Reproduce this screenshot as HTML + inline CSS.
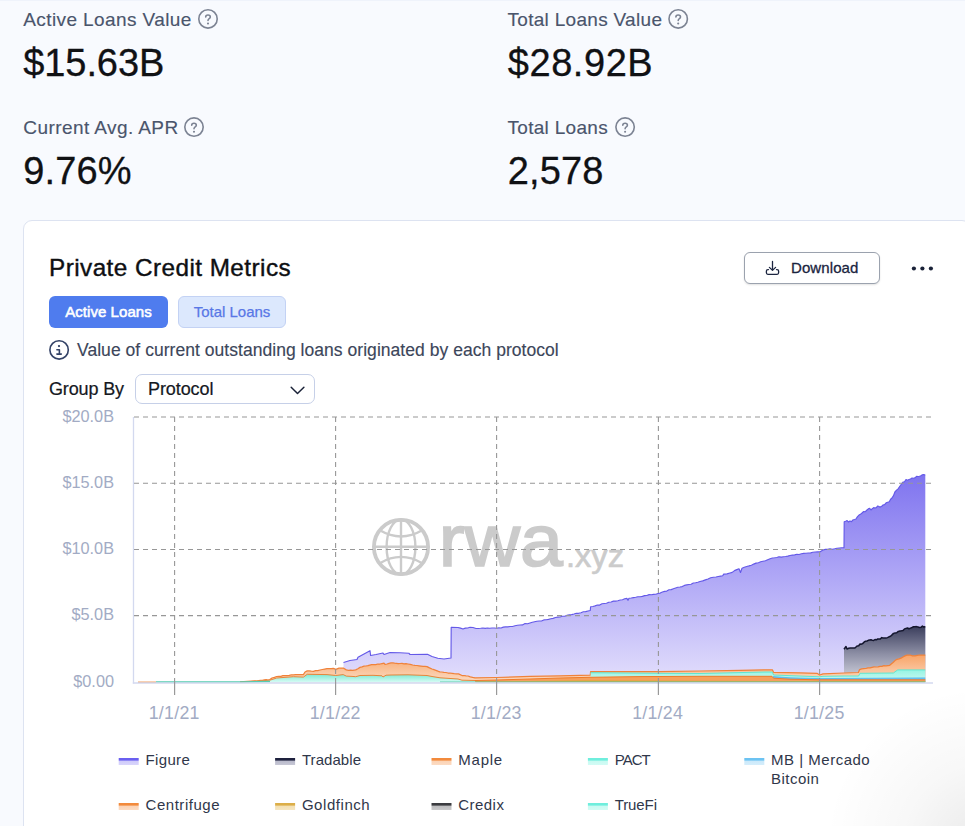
<!DOCTYPE html>
<html>
<head>
<meta charset="utf-8">
<style>
*{box-sizing:border-box;margin:0;padding:0}
html,body{width:965px;height:826px;overflow:hidden}
body{background:#f8fafe;font-family:"Liberation Sans",sans-serif;position:relative;color:#0f1115}
.abs{position:absolute;white-space:nowrap}
.lbl{font-size:19px;color:#4a556c;line-height:22px;letter-spacing:0.3px;-webkit-text-stroke:0.15px #4a556c}
.val{font-size:38px;color:#101114;line-height:44px;letter-spacing:-0.1px;-webkit-text-stroke:0.3px #101114}
.q{position:absolute;width:19px;height:19px}
#card{position:absolute;left:23px;top:220px;width:948px;height:640px;background:#fff;border:1px solid #dde3f1;border-radius:9px}
#title{left:49px;top:252.6px;font-size:24.3px;line-height:30px;color:#0e0f12;letter-spacing:0.45px;-webkit-text-stroke:0.4px #0e0f12}
.btn{position:absolute;top:296px;height:32px;border-radius:6px;font-size:15px;line-height:32px;text-align:center;letter-spacing:0.05px}
#b1{left:49px;width:119px;background:#4f7cee;color:#fff;-webkit-text-stroke:0.55px #fff}
#b2{left:178px;width:108px;background:#dce8fd;border:1px solid #c3d2f4;color:#5877e6;line-height:30px;letter-spacing:0;-webkit-text-stroke:0.25px #5877e6}
#dl{position:absolute;left:744px;top:252px;width:136px;height:32px;border:1px solid #9ba2ae;border-radius:6px;background:#fff;box-shadow:0 1px 2px rgba(0,0,0,.12)}
#dl span{position:absolute;left:46px;top:0;line-height:30px;font-size:15px;color:#1a2440;letter-spacing:0.1px;-webkit-text-stroke:0.3px #1a2440}
#info{left:77px;top:339px;font-size:17.5px;line-height:22px;color:#3c465a;letter-spacing:0.04px;-webkit-text-stroke:0.15px #3c465a}
#gb{left:49px;top:377.6px;font-size:18px;line-height:22px;color:#15181f;letter-spacing:-0.15px;-webkit-text-stroke:0.22px #15181f}
#sel{position:absolute;left:135px;top:374px;width:180px;height:30px;border:1px solid #c6d0e8;border-radius:7px;background:#fff}
#sel span{position:absolute;left:12px;top:0;line-height:28px;font-size:18px;color:#15181f;letter-spacing:-0.08px;-webkit-text-stroke:0.22px #15181f}
svg{position:absolute;left:0;top:0}
</style>
</head>
<body>
<div class="abs lbl" style="left:23.3px;top:9px;letter-spacing:0.4px">Active Loans Value</div>
<div class="abs val" style="left:23.3px;top:40.5px">$15.63B</div>
<div class="abs lbl" style="left:23.3px;top:117px;letter-spacing:0.42px">Current Avg. APR</div>
<div class="abs val" style="left:23.3px;top:148.5px;letter-spacing:0.1px">9.76%</div>
<div class="abs lbl" style="left:507.5px;top:9px">Total Loans Value</div>
<div class="abs val" style="left:507.8px;top:40.5px;letter-spacing:0.55px">$28.92B</div>
<div class="abs lbl" style="left:507.5px;top:117px">Total Loans</div>
<div class="abs val" style="left:507.8px;top:148.5px;letter-spacing:0.15px">2,578</div>

<div style="position:absolute;left:0;top:0;width:965px;height:1px;background:#eff3fb"></div>
<div id="card"></div>
<div class="abs" id="title">Private Credit Metrics</div>
<div class="btn" id="b1">Active Loans</div>
<div class="btn" id="b2">Total Loans</div>
<div id="dl"><span>Download</span></div>
<div class="abs" id="info">Value of current outstanding loans originated by each protocol</div>
<div class="abs" id="gb">Group By</div>
<div id="sel"><span>Protocol</span></div>

<svg id="ov" width="965" height="826" viewBox="0 0 965 826">
<!--ICONS-->
<g fill="none" stroke="#7c8393" stroke-width="1.6" stroke-linecap="round" stroke-linejoin="round"><circle cx="208" cy="18.9" r="9.2"/><path d="M205.7 17.0 C205.7 15.5 206.8 15.0 208 15.0 C209.3 15.0 210.3 15.8 210.3 17.0 C210.3 18.8 208 18.5 208 20.5"/></g><circle cx="208" cy="23.5" r="1.05" fill="#7c8393"/>
<g fill="none" stroke="#7c8393" stroke-width="1.6" stroke-linecap="round" stroke-linejoin="round"><circle cx="194" cy="127.1" r="9.2"/><path d="M191.7 125.2 C191.7 123.7 192.8 123.2 194 123.2 C195.3 123.2 196.3 124.0 196.3 125.2 C196.3 127.0 194 126.7 194 128.7"/></g><circle cx="194" cy="131.7" r="1.05" fill="#7c8393"/>
<g fill="none" stroke="#7c8393" stroke-width="1.6" stroke-linecap="round" stroke-linejoin="round"><circle cx="678.2" cy="18.9" r="9.2"/><path d="M675.9 17.0 C675.9 15.5 677.0 15.0 678.2 15.0 C679.5 15.0 680.5 15.8 680.5 17.0 C680.5 18.8 678.2 18.5 678.2 20.5"/></g><circle cx="678.2" cy="23.5" r="1.05" fill="#7c8393"/>
<g fill="none" stroke="#7c8393" stroke-width="1.6" stroke-linecap="round" stroke-linejoin="round"><circle cx="625.1" cy="127.1" r="9.2"/><path d="M622.8 125.2 C622.8 123.7 623.9 123.2 625.1 123.2 C626.4 123.2 627.4 124.0 627.4 125.2 C627.4 127.0 625.1 126.7 625.1 128.7"/></g><circle cx="625.1" cy="131.7" r="1.05" fill="#7c8393"/>
<g fill="none" stroke="#334266" stroke-width="1.6" stroke-linecap="round" stroke-linejoin="round"><circle cx="59.1" cy="349.9" r="9.2"/><path d="M56.9 349.7 H59.4 V354.1 M56.9 354.1 H61.3"/></g><circle cx="59" cy="346.1" r="1.15" fill="#334266"/>
<g fill="none" stroke="#1c2540" stroke-width="1.3" stroke-linecap="round" stroke-linejoin="round"><path d="M768.5 269.6 H767.9 a1.5 1.5 0 0 0 -1.5 1.5 V272.8 a1.5 1.5 0 0 0 1.5 1.5 H777.1 a1.5 1.5 0 0 0 1.5 -1.5 V271.1 a1.5 1.5 0 0 0 -1.5 -1.5 H776.5"/><path d="M772.5 261.4 V270.2 M769.4 267.4 L772.5 270.4 L775.6 267.4"/></g>
<g fill="#1a2238"><circle cx="913.9" cy="268.5" r="2.1"/><circle cx="922.4" cy="268.5" r="2.1"/><circle cx="930.9" cy="268.5" r="2.1"/></g>
<path d="M291.2 387.3 L297.5 393.5 L303.9 387.3" fill="none" stroke="#1a2238" stroke-width="1.5" stroke-linecap="round" stroke-linejoin="round"/>
<!--/ICONS-->
<!--CHART-->
<defs>
<linearGradient id="gF" gradientUnits="userSpaceOnUse" x1="0" y1="475" x2="0" y2="682"><stop offset="0" stop-color="#7f74ef"/><stop offset="0.5" stop-color="#b0a8f6"/><stop offset="1" stop-color="#e3dffc"/></linearGradient>
<linearGradient id="gT" gradientUnits="userSpaceOnUse" x1="0" y1="626" x2="0" y2="682"><stop offset="0" stop-color="#3a3d5c"/><stop offset="0.5" stop-color="#8d8fa5"/><stop offset="1" stop-color="#d9dae4"/></linearGradient>
<linearGradient id="gM" gradientUnits="userSpaceOnUse" x1="0" y1="655" x2="0" y2="682"><stop offset="0" stop-color="#f7a468"/><stop offset="1" stop-color="#fcdcc4"/></linearGradient>
<linearGradient id="gP" gradientUnits="userSpaceOnUse" x1="0" y1="668" x2="0" y2="682"><stop offset="0" stop-color="#8df2e0"/><stop offset="1" stop-color="#cdfaf3"/></linearGradient>
<linearGradient id="gC" gradientUnits="userSpaceOnUse" x1="0" y1="674" x2="0" y2="682"><stop offset="0" stop-color="#7be8d2"/><stop offset="1" stop-color="#d4fbf3"/></linearGradient>
</defs>
<g id="wm" fill="none" stroke="#cbcbcb" stroke-width="2.4">
<circle cx="401" cy="547" r="27.1" stroke-width="3.8"/>
<ellipse cx="401" cy="547" rx="14.4" ry="27.5"/>
<line x1="401" y1="519" x2="401" y2="575"/>
<line x1="373" y1="546.8" x2="429" y2="546.8"/>
<path d="M379.8 530.3 Q401 542.6 422.2 530.3"/>
<path d="M379.8 563.2 Q401 550.6 422.2 563.2"/>
</g>
<text x="438.8" y="566.4" font-family="Liberation Sans, sans-serif" font-size="75" fill="#cbcbcb" stroke="#cbcbcb" stroke-width="1.7" textLength="124" lengthAdjust="spacingAndGlyphs">rwa</text>
<text x="566" y="567.2" font-family="Liberation Sans, sans-serif" font-size="31" fill="#cbcbcb" stroke="#cbcbcb" stroke-width="0.6" textLength="58" lengthAdjust="spacingAndGlyphs">.xyz</text>
<polygon points="343.5,662.5 350.0,660.5 357.0,659.5 358.0,657.3 364.0,654.0 370.0,650.7 370.6,655.5 376.0,654.5 383.0,653.0 384.0,654.5 390.0,652.5 400.0,652.8 408.8,653.2 410.0,654.5 427.4,654.2 432.0,656.5 437.8,658.3 444.0,659.0 451.0,658.0 451.2,627.3 458.0,627.5 460.5,628.1 463.0,629.0 465.3,628.1 467.7,628.0 470.0,627.3 473.0,627.5 476.0,628.5 478.3,628.5 480.6,628.3 482.9,628.0 485.2,628.4 487.4,628.0 489.7,628.3 492.0,628.0 494.3,628.0 496.6,628.3 498.8,627.9 501.1,628.0 503.3,627.1 505.5,626.9 507.8,626.9 510.0,626.5 512.5,626.5 515.0,625.8 517.5,625.3 520.0,625.0 522.5,624.9 525.0,623.6 527.5,623.8 530.0,623.0 532.3,622.3 534.6,621.8 536.9,621.3 539.2,621.0 541.5,621.0 543.8,619.9 546.2,619.8 548.5,619.4 550.8,618.7 553.1,618.4 555.4,617.5 557.7,617.1 560.0,617.0 562.3,616.2 564.7,616.2 567.0,615.4 569.3,614.8 571.7,614.6 574.0,614.0 576.3,613.3 578.6,613.3 581.0,612.7 583.3,611.8 585.6,611.6 588.0,611.0 590.3,610.5 590.6,606.7 592.9,606.5 595.1,605.9 597.4,605.0 599.7,605.1 602.0,603.8 604.2,603.5 606.5,603.3 608.8,602.2 611.1,602.0 613.4,601.1 615.6,601.1 617.9,600.7 620.2,600.0 622.5,599.8 624.7,598.8 627.0,598.4 628.0,600.3 629.0,598.2 631.2,598.0 633.5,597.6 635.7,597.2 637.9,596.7 640.2,596.7 642.4,596.4 644.6,595.6 646.8,595.5 649.1,594.6 651.3,594.8 653.5,594.4 655.8,594.3 658.0,593.5 660.2,593.1 662.4,592.0 664.6,591.4 666.8,591.1 669.0,589.8 671.2,589.6 673.4,588.7 675.6,588.0 677.8,587.3 680.0,587.0 682.2,586.6 684.4,585.4 686.7,584.9 688.9,584.5 691.1,584.3 693.3,583.0 695.6,582.7 697.8,582.2 700.0,581.5 702.7,580.9 705.4,579.9 708.0,579.0 710.7,577.7 713.4,577.2 716.0,577.0 718.2,576.5 720.5,576.1 722.7,575.8 723.7,574.1 726.9,573.9 730.0,573.0 732.2,572.4 734.5,570.6 736.8,569.6 739.0,568.8 740.5,572.5 742.0,568.3 744.3,567.3 746.7,566.5 749.0,565.9 751.4,565.2 753.7,564.1 756.0,563.1 758.4,562.7 760.7,561.8 763.0,561.2 765.4,560.8 767.7,559.8 770.1,558.8 772.4,558.0 774.6,557.8 776.8,557.5 779.0,556.7 781.2,557.1 783.4,556.7 785.6,556.5 787.8,556.1 790.0,555.5 792.3,555.1 794.6,554.9 796.9,554.3 799.1,554.5 801.4,553.7 803.7,553.4 806.0,553.3 808.3,553.0 810.6,552.9 812.8,552.3 815.1,552.0 817.4,551.9 819.7,551.9 823.0,550.0 825.3,549.4 827.7,549.4 830.0,548.8 832.3,549.3 834.7,548.8 837.0,548.2 839.3,548.0 841.7,547.8 844.0,547.7 844.2,521.8 845.7,521.3 847.1,520.6 848.5,522.0 850.0,521.0 851.5,521.6 853.0,519.9 854.5,519.5 856.0,519.0 857.5,516.6 859.0,515.1 860.5,514.2 862.0,513.0 863.7,511.5 865.3,511.7 867.0,510.0 868.3,508.9 869.7,508.3 871.0,510.0 872.3,508.7 873.7,507.6 875.0,508.0 876.3,507.6 877.7,506.0 879.0,506.6 880.3,507.1 881.7,506.3 883.0,505.0 884.6,504.6 886.1,502.9 887.7,502.3 889.3,501.8 890.6,499.2 892.0,498.0 893.5,495.6 894.9,492.0 896.6,490.1 898.3,488.6 900.0,486.0 901.5,484.0 903.0,482.1 904.5,481.8 906.0,479.5 907.5,480.2 909.0,479.5 910.5,479.0 912.0,478.0 913.5,478.3 915.0,477.8 916.5,476.3 918.0,476.5 919.5,476.3 920.9,475.7 922.4,474.7 923.8,474.5 925.3,475.3 925.3,682.3 343.5,682.3" fill="url(#gF)"/>
<polyline points="343.5,662.5 350.0,660.5 357.0,659.5 358.0,657.3 364.0,654.0 370.0,650.7 370.6,655.5 376.0,654.5 383.0,653.0 384.0,654.5 390.0,652.5 400.0,652.8 408.8,653.2 410.0,654.5 427.4,654.2 432.0,656.5 437.8,658.3 444.0,659.0 451.0,658.0 451.2,627.3 458.0,627.5 460.5,628.1 463.0,629.0 465.3,628.1 467.7,628.0 470.0,627.3 473.0,627.5 476.0,628.5 478.3,628.5 480.6,628.3 482.9,628.0 485.2,628.4 487.4,628.0 489.7,628.3 492.0,628.0 494.3,628.0 496.6,628.3 498.8,627.9 501.1,628.0 503.3,627.1 505.5,626.9 507.8,626.9 510.0,626.5 512.5,626.5 515.0,625.8 517.5,625.3 520.0,625.0 522.5,624.9 525.0,623.6 527.5,623.8 530.0,623.0 532.3,622.3 534.6,621.8 536.9,621.3 539.2,621.0 541.5,621.0 543.8,619.9 546.2,619.8 548.5,619.4 550.8,618.7 553.1,618.4 555.4,617.5 557.7,617.1 560.0,617.0 562.3,616.2 564.7,616.2 567.0,615.4 569.3,614.8 571.7,614.6 574.0,614.0 576.3,613.3 578.6,613.3 581.0,612.7 583.3,611.8 585.6,611.6 588.0,611.0 590.3,610.5 590.6,606.7 592.9,606.5 595.1,605.9 597.4,605.0 599.7,605.1 602.0,603.8 604.2,603.5 606.5,603.3 608.8,602.2 611.1,602.0 613.4,601.1 615.6,601.1 617.9,600.7 620.2,600.0 622.5,599.8 624.7,598.8 627.0,598.4 628.0,600.3 629.0,598.2 631.2,598.0 633.5,597.6 635.7,597.2 637.9,596.7 640.2,596.7 642.4,596.4 644.6,595.6 646.8,595.5 649.1,594.6 651.3,594.8 653.5,594.4 655.8,594.3 658.0,593.5 660.2,593.1 662.4,592.0 664.6,591.4 666.8,591.1 669.0,589.8 671.2,589.6 673.4,588.7 675.6,588.0 677.8,587.3 680.0,587.0 682.2,586.6 684.4,585.4 686.7,584.9 688.9,584.5 691.1,584.3 693.3,583.0 695.6,582.7 697.8,582.2 700.0,581.5 702.7,580.9 705.4,579.9 708.0,579.0 710.7,577.7 713.4,577.2 716.0,577.0 718.2,576.5 720.5,576.1 722.7,575.8 723.7,574.1 726.9,573.9 730.0,573.0 732.2,572.4 734.5,570.6 736.8,569.6 739.0,568.8 740.5,572.5 742.0,568.3 744.3,567.3 746.7,566.5 749.0,565.9 751.4,565.2 753.7,564.1 756.0,563.1 758.4,562.7 760.7,561.8 763.0,561.2 765.4,560.8 767.7,559.8 770.1,558.8 772.4,558.0 774.6,557.8 776.8,557.5 779.0,556.7 781.2,557.1 783.4,556.7 785.6,556.5 787.8,556.1 790.0,555.5 792.3,555.1 794.6,554.9 796.9,554.3 799.1,554.5 801.4,553.7 803.7,553.4 806.0,553.3 808.3,553.0 810.6,552.9 812.8,552.3 815.1,552.0 817.4,551.9 819.7,551.9 823.0,550.0 825.3,549.4 827.7,549.4 830.0,548.8 832.3,549.3 834.7,548.8 837.0,548.2 839.3,548.0 841.7,547.8 844.0,547.7 844.2,521.8 845.7,521.3 847.1,520.6 848.5,522.0 850.0,521.0 851.5,521.6 853.0,519.9 854.5,519.5 856.0,519.0 857.5,516.6 859.0,515.1 860.5,514.2 862.0,513.0 863.7,511.5 865.3,511.7 867.0,510.0 868.3,508.9 869.7,508.3 871.0,510.0 872.3,508.7 873.7,507.6 875.0,508.0 876.3,507.6 877.7,506.0 879.0,506.6 880.3,507.1 881.7,506.3 883.0,505.0 884.6,504.6 886.1,502.9 887.7,502.3 889.3,501.8 890.6,499.2 892.0,498.0 893.5,495.6 894.9,492.0 896.6,490.1 898.3,488.6 900.0,486.0 901.5,484.0 903.0,482.1 904.5,481.8 906.0,479.5 907.5,480.2 909.0,479.5 910.5,479.0 912.0,478.0 913.5,478.3 915.0,477.8 916.5,476.3 918.0,476.5 919.5,476.3 920.9,475.7 922.4,474.7 923.8,474.5 925.3,475.3" fill="none" stroke="#6459e8" stroke-width="1.15" stroke-linejoin="round"/>
<polygon points="844.0,649.3 846.0,646.5 847.0,649.0 848.7,648.3 850.3,647.9 852.0,648.0 853.3,648.0 854.7,648.1 856.0,647.0 857.3,645.9 858.7,645.7 860.0,644.0 861.4,644.2 862.8,643.5 864.2,642.0 865.6,641.2 867.0,641.0 868.3,640.3 869.7,640.0 871.0,639.8 872.3,640.2 873.7,640.4 875.0,639.5 876.3,639.8 877.7,639.0 879.0,639.0 880.3,639.0 881.7,637.6 883.0,638.0 884.5,638.0 886.0,638.1 887.5,637.6 889.0,636.8 890.5,636.3 892.0,634.9 893.5,633.4 895.0,633.0 896.7,632.8 898.3,631.4 900.0,631.0 901.5,630.8 903.0,630.5 904.5,628.9 906.0,628.4 907.5,628.0 909.0,628.7 910.5,628.1 912.0,627.5 913.5,626.8 915.0,626.7 916.5,626.6 918.0,627.0 919.5,627.5 920.9,627.3 922.4,626.1 923.8,627.1 925.3,626.5 925.3,682.3 844.0,682.3" fill="url(#gT)"/>
<polyline points="844.0,649.3 846.0,646.5 847.0,649.0 848.7,648.3 850.3,647.9 852.0,648.0 853.3,648.0 854.7,648.1 856.0,647.0 857.3,645.9 858.7,645.7 860.0,644.0 861.4,644.2 862.8,643.5 864.2,642.0 865.6,641.2 867.0,641.0 868.3,640.3 869.7,640.0 871.0,639.8 872.3,640.2 873.7,640.4 875.0,639.5 876.3,639.8 877.7,639.0 879.0,639.0 880.3,639.0 881.7,637.6 883.0,638.0 884.5,638.0 886.0,638.1 887.5,637.6 889.0,636.8 890.5,636.3 892.0,634.9 893.5,633.4 895.0,633.0 896.7,632.8 898.3,631.4 900.0,631.0 901.5,630.8 903.0,630.5 904.5,628.9 906.0,628.4 907.5,628.0 909.0,628.7 910.5,628.1 912.0,627.5 913.5,626.8 915.0,626.7 916.5,626.6 918.0,627.0 919.5,627.5 920.9,627.3 922.4,626.1 923.8,627.1 925.3,626.5" fill="none" stroke="#14162e" stroke-width="1.5" stroke-linejoin="round"/>
<polygon points="240.0,681.9 255.0,680.9 256.9,681.0 258.7,680.7 260.6,680.3 262.4,680.3 264.3,679.9 266.2,679.6 268.0,680.0 269.9,679.6 272.0,678.0 274.4,677.3 276.7,676.5 278.8,676.3 280.9,676.3 282.9,675.7 285.0,675.5 287.1,675.6 289.2,675.4 291.4,674.9 293.5,674.9 295.5,674.7 297.5,674.7 299.4,674.6 301.4,674.7 303.4,674.6 305.0,672.0 307.2,670.9 309.3,670.9 311.3,671.2 313.4,671.4 315.6,670.7 317.8,670.7 320.0,670.0 322.3,669.5 324.7,669.1 327.0,668.7 329.1,668.6 331.2,668.7 333.3,668.3 335.8,669.3 339.0,668.2 341.1,668.1 343.2,668.0 346.3,669.9 348.5,670.3 350.6,670.2 352.8,670.4 355.7,669.9 357.9,668.7 360.0,667.4 362.0,666.9 364.0,666.2 366.0,666.0 367.9,665.6 369.8,665.1 371.6,664.7 373.5,664.6 375.7,664.6 377.8,664.0 380.0,664.0 382.0,663.6 384.0,663.2 385.0,664.3 387.0,664.0 389.0,663.4 391.0,662.9 392.8,662.9 394.6,663.2 396.4,663.3 398.2,663.6 400.0,663.5 402.0,663.4 404.0,663.8 406.0,663.7 408.0,664.0 410.3,664.3 412.7,665.0 415.0,665.3 417.0,665.5 419.0,665.8 421.0,666.1 423.0,666.4 425.0,666.3 427.0,666.6 429.5,667.9 432.0,669.0 433.9,669.7 435.9,670.4 437.9,671.2 439.8,671.8 441.8,672.0 443.9,672.3 445.9,672.5 448.0,673.0 450.0,673.0 452.1,673.3 454.2,673.7 456.4,673.9 458.5,673.9 462.0,675.5 464.0,675.5 466.0,675.9 468.0,676.0 470.3,676.9 472.7,677.4 475.0,677.8 496.6,677.5 530.0,676.4 560.0,675.8 590.3,675.1 590.6,671.7 640.0,671.6 658.0,671.5 700.0,671.0 740.0,670.3 765.0,669.8 772.4,669.8 773.5,672.3 800.0,672.8 817.0,673.3 819.7,675.0 823.0,673.8 844.0,673.0 858.4,672.5 859.6,669.6 861.7,668.9 863.8,668.6 865.8,668.5 867.9,667.8 870.0,667.8 872.0,667.3 874.0,666.9 876.0,667.0 878.0,666.8 880.0,666.3 881.9,666.4 883.9,665.6 885.8,665.9 887.8,665.6 889.7,665.3 893.0,662.5 895.0,660.6 897.0,659.3 899.0,658.8 901.0,658.1 903.0,657.0 905.0,655.9 907.0,655.2 910.0,655.0 912.5,655.8 915.0,655.8 917.5,655.3 920.0,655.0 922.6,655.1 925.3,655.2 925.3,682.3 240.0,682.3" fill="url(#gM)"/>
<polyline points="240.0,681.9 255.0,680.9 256.9,681.0 258.7,680.7 260.6,680.3 262.4,680.3 264.3,679.9 266.2,679.6 268.0,680.0 269.9,679.6 272.0,678.0 274.4,677.3 276.7,676.5 278.8,676.3 280.9,676.3 282.9,675.7 285.0,675.5 287.1,675.6 289.2,675.4 291.4,674.9 293.5,674.9 295.5,674.7 297.5,674.7 299.4,674.6 301.4,674.7 303.4,674.6 305.0,672.0 307.2,670.9 309.3,670.9 311.3,671.2 313.4,671.4 315.6,670.7 317.8,670.7 320.0,670.0 322.3,669.5 324.7,669.1 327.0,668.7 329.1,668.6 331.2,668.7 333.3,668.3 335.8,669.3 339.0,668.2 341.1,668.1 343.2,668.0 346.3,669.9 348.5,670.3 350.6,670.2 352.8,670.4 355.7,669.9 357.9,668.7 360.0,667.4 362.0,666.9 364.0,666.2 366.0,666.0 367.9,665.6 369.8,665.1 371.6,664.7 373.5,664.6 375.7,664.6 377.8,664.0 380.0,664.0 382.0,663.6 384.0,663.2 385.0,664.3 387.0,664.0 389.0,663.4 391.0,662.9 392.8,662.9 394.6,663.2 396.4,663.3 398.2,663.6 400.0,663.5 402.0,663.4 404.0,663.8 406.0,663.7 408.0,664.0 410.3,664.3 412.7,665.0 415.0,665.3 417.0,665.5 419.0,665.8 421.0,666.1 423.0,666.4 425.0,666.3 427.0,666.6 429.5,667.9 432.0,669.0 433.9,669.7 435.9,670.4 437.9,671.2 439.8,671.8 441.8,672.0 443.9,672.3 445.9,672.5 448.0,673.0 450.0,673.0 452.1,673.3 454.2,673.7 456.4,673.9 458.5,673.9 462.0,675.5 464.0,675.5 466.0,675.9 468.0,676.0 470.3,676.9 472.7,677.4 475.0,677.8 496.6,677.5 530.0,676.4 560.0,675.8 590.3,675.1 590.6,671.7 640.0,671.6 658.0,671.5 700.0,671.0 740.0,670.3 765.0,669.8 772.4,669.8 773.5,672.3 800.0,672.8 817.0,673.3 819.7,675.0 823.0,673.8 844.0,673.0 858.4,672.5 859.6,669.6 861.7,668.9 863.8,668.6 865.8,668.5 867.9,667.8 870.0,667.8 872.0,667.3 874.0,666.9 876.0,667.0 878.0,666.8 880.0,666.3 881.9,666.4 883.9,665.6 885.8,665.9 887.8,665.6 889.7,665.3 893.0,662.5 895.0,660.6 897.0,659.3 899.0,658.8 901.0,658.1 903.0,657.0 905.0,655.9 907.0,655.2 910.0,655.0 912.5,655.8 915.0,655.8 917.5,655.3 920.0,655.0 922.6,655.1 925.3,655.2" fill="none" stroke="#f0823a" stroke-width="1.25" stroke-linejoin="round"/>
<polygon points="590.6,672.7 658.0,673.3 700.0,673.5 765.0,672.0 772.4,672.0 773.5,675.0 819.7,676.8 823.0,676.3 844.0,676.0 858.6,676.0 860.0,673.3 893.4,673.0 897.7,669.9 925.3,669.9 925.3,682.3 590.6,682.3" fill="url(#gP)"/>
<polyline points="590.6,672.7 658.0,673.3 700.0,673.5 765.0,672.0 772.4,672.0 773.5,675.0 819.7,676.8 823.0,676.3 844.0,676.0 858.6,676.0 860.0,673.3 893.4,673.0 897.7,669.9 925.3,669.9" fill="none" stroke="#5fe6d0" stroke-width="1.0" stroke-linejoin="round"/>
<polygon points="773.0,676.6 790.0,677.8 820.0,678.6 925.3,677.9 925.3,682.3 773.0,682.3" fill="#6ec4f2"/>
<polyline points="773.0,676.6 790.0,677.8 820.0,678.6 925.3,677.9" fill="none" stroke="#4fb4ee" stroke-width="0.8" stroke-linejoin="round"/>
<polygon points="240.0,682.2 269.9,680.2 276.7,678.0 293.5,676.7 303.4,677.1 307.2,674.3 327.0,674.6 335.8,675.5 343.2,674.6 346.3,676.1 352.0,676.4 355.7,676.7 360.0,675.5 373.0,675.3 382.0,675.8 383.0,677.0 386.0,675.2 391.0,675.0 408.0,674.8 427.0,675.5 432.0,676.5 440.0,677.8 458.0,679.0 462.0,680.2 475.0,680.5 475.0,682.3 240.0,682.3" fill="url(#gC)"/>
<polyline points="240.0,682.2 269.9,680.2 276.7,678.0 293.5,676.7 303.4,677.1 307.2,674.3 327.0,674.6 335.8,675.5 343.2,674.6 346.3,676.1 352.0,676.4 355.7,676.7 360.0,675.5 373.0,675.3 382.0,675.8 383.0,677.0 386.0,675.2 391.0,675.0 408.0,674.8 427.0,675.5 432.0,676.5 440.0,677.8 458.0,679.0 462.0,680.2 475.0,680.5" fill="none" stroke="#e8853a" stroke-width="1.0" stroke-linejoin="round"/>
<polygon points="475.0,680.5 496.6,680.0 530.0,679.0 560.0,678.0 590.0,677.3 640.0,676.6 700.0,676.3 772.0,676.3 773.5,678.2 790.0,679.2 820.0,679.8 925.3,679.8 925.3,682.3 475.0,682.3" fill="#f6a05c"/>
<polyline points="475.0,680.5 496.6,680.0 530.0,679.0 560.0,678.0 590.0,677.3 640.0,676.6 700.0,676.3 772.0,676.3 773.5,678.2 790.0,679.2 820.0,679.8 925.3,679.8" fill="none" stroke="#ee7a2a" stroke-width="1.0" stroke-linejoin="round"/>
<line x1="138" y1="682.2" x2="156" y2="682.2" stroke="#ee8a3c" stroke-width="1.2"/>
<polygon points="476.0,681.6 500.0,681.3 590.0,680.3 700.0,680.8 925.3,681.3 925.3,682.3 476.0,682.3" fill="#e0a83a"/>
<polyline points="156,682 240,682 270,681.4" fill="none" stroke="#55cdb0" stroke-width="1.5"/>
<polyline points="440,682 475,682 925.3,682" fill="none" stroke="#4fc4a6" stroke-width="0.9"/>
<line x1="133.5" y1="417" x2="133.5" y2="683.5" stroke="#d3d9ef" stroke-width="1.3"/>
<line x1="132.8" y1="683" x2="933" y2="683" stroke="#d3d9ef" stroke-width="1.3"/>
<g stroke="#979797" stroke-width="1.1" stroke-dasharray="5 4" fill="none"><line x1="134" y1="417" x2="933.5" y2="417"/><line x1="134" y1="483.2" x2="933.5" y2="483.2"/><line x1="134" y1="549.5" x2="933.5" y2="549.5"/><line x1="134" y1="615.6" x2="933.5" y2="615.6"/><line x1="174.6" y1="417" x2="174.6" y2="682"/><line x1="335.6" y1="417" x2="335.6" y2="682"/><line x1="496.6" y1="417" x2="496.6" y2="682"/><line x1="658.4" y1="417" x2="658.4" y2="682"/><line x1="819.6" y1="417" x2="819.6" y2="682"/></g>
<g stroke="#999" stroke-width="1.2"><line x1="174.6" y1="682" x2="174.6" y2="695"/><line x1="335.6" y1="682" x2="335.6" y2="695"/><line x1="496.6" y1="682" x2="496.6" y2="695"/><line x1="658.4" y1="682" x2="658.4" y2="695"/><line x1="819.6" y1="682" x2="819.6" y2="695"/></g>
<g font-family="Liberation Sans, sans-serif" font-size="16.3" fill="#a2abc4"><text x="114" y="421.7" text-anchor="end">$20.0B</text><text x="114" y="487.9" text-anchor="end">$15.0B</text><text x="114" y="554.1" text-anchor="end">$10.0B</text><text x="114" y="620.3000000000001" text-anchor="end">$5.0B</text><text x="114" y="686.7" text-anchor="end">$0.00</text><text x="174.2" y="719" text-anchor="middle" font-size="17.8" letter-spacing="0.25">1/1/21</text><text x="335.2" y="719" text-anchor="middle" font-size="17.8" letter-spacing="0.25">1/1/22</text><text x="496.2" y="719" text-anchor="middle" font-size="17.8" letter-spacing="0.25">1/1/23</text><text x="657.6" y="719" text-anchor="middle" font-size="17.8" letter-spacing="0.25">1/1/24</text><text x="819.1" y="719" text-anchor="middle" font-size="17.8" letter-spacing="0.25">1/1/25</text></g>
<g font-family="Liberation Sans, sans-serif" font-size="15" fill="#30374a"><linearGradient id="lg0" x1="0" y1="0" x2="0" y2="1"><stop offset="0" stop-color="#6a5ff0"/><stop offset="0.3" stop-color="#6a5ff0"/><stop offset="0.45" stop-color="#cfcbfa"/><stop offset="1" stop-color="#cfcbfa" stop-opacity="0.8"/></linearGradient><rect x="118.7" y="758" width="20" height="7" fill="url(#lg0)"/><text x="145.5" y="764.5" textLength="44.3">Figure</text><linearGradient id="lg1" x1="0" y1="0" x2="0" y2="1"><stop offset="0" stop-color="#1e213e"/><stop offset="0.3" stop-color="#1e213e"/><stop offset="0.45" stop-color="#b9bacb"/><stop offset="1" stop-color="#b9bacb" stop-opacity="0.8"/></linearGradient><rect x="275.1" y="758" width="20" height="7" fill="url(#lg1)"/><text x="301.9" y="764.5" textLength="59.1">Tradable</text><linearGradient id="lg2" x1="0" y1="0" x2="0" y2="1"><stop offset="0" stop-color="#f28a3c"/><stop offset="0.3" stop-color="#f28a3c"/><stop offset="0.45" stop-color="#fbd3b5"/><stop offset="1" stop-color="#fbd3b5" stop-opacity="0.8"/></linearGradient><rect x="431.5" y="758" width="20" height="7" fill="url(#lg2)"/><text x="458.3" y="764.5" textLength="43.9">Maple</text><linearGradient id="lg3" x1="0" y1="0" x2="0" y2="1"><stop offset="0" stop-color="#6feedd"/><stop offset="0.3" stop-color="#6feedd"/><stop offset="0.45" stop-color="#c8faf2"/><stop offset="1" stop-color="#c8faf2" stop-opacity="0.8"/></linearGradient><rect x="587.9" y="758" width="20" height="7" fill="url(#lg3)"/><text x="614.7" y="764.5" textLength="36.0">PACT</text><linearGradient id="lg4" x1="0" y1="0" x2="0" y2="1"><stop offset="0" stop-color="#6cc3f2"/><stop offset="0.3" stop-color="#6cc3f2"/><stop offset="0.45" stop-color="#cbe9fa"/><stop offset="1" stop-color="#cbe9fa" stop-opacity="0.8"/></linearGradient><rect x="744.3" y="758" width="20" height="7" fill="url(#lg4)"/><text x="771.1" y="764.5" textLength="98.6">MB | Mercado</text><text x="771.1" y="783.6" textLength="47.8">Bitcoin</text><linearGradient id="lg5" x1="0" y1="0" x2="0" y2="1"><stop offset="0" stop-color="#f28a3c"/><stop offset="0.3" stop-color="#f28a3c"/><stop offset="0.45" stop-color="#fbd3b5"/><stop offset="1" stop-color="#fbd3b5" stop-opacity="0.8"/></linearGradient><rect x="118.7" y="803" width="20" height="7" fill="url(#lg5)"/><text x="145.5" y="809.5" textLength="74.1">Centrifuge</text><linearGradient id="lg6" x1="0" y1="0" x2="0" y2="1"><stop offset="0" stop-color="#dcae48"/><stop offset="0.3" stop-color="#dcae48"/><stop offset="0.45" stop-color="#f3e0b3"/><stop offset="1" stop-color="#f3e0b3" stop-opacity="0.8"/></linearGradient><rect x="275.1" y="803" width="20" height="7" fill="url(#lg6)"/><text x="301.9" y="809.5" textLength="67.8">Goldfinch</text><linearGradient id="lg7" x1="0" y1="0" x2="0" y2="1"><stop offset="0" stop-color="#3b3c40"/><stop offset="0.3" stop-color="#3b3c40"/><stop offset="0.45" stop-color="#bdbdbf"/><stop offset="1" stop-color="#bdbdbf" stop-opacity="0.8"/></linearGradient><rect x="431.5" y="803" width="20" height="7" fill="url(#lg7)"/><text x="458.3" y="809.5" textLength="45.6">Credix</text><linearGradient id="lg8" x1="0" y1="0" x2="0" y2="1"><stop offset="0" stop-color="#6feedd"/><stop offset="0.3" stop-color="#6feedd"/><stop offset="0.45" stop-color="#c8faf2"/><stop offset="1" stop-color="#c8faf2" stop-opacity="0.8"/></linearGradient><rect x="587.9" y="803" width="20" height="7" fill="url(#lg8)"/><text x="614.7" y="809.5" textLength="42.3">TrueFi</text></g>
<defs><radialGradient id="sh" gradientUnits="userSpaceOnUse" cx="985" cy="846" r="160"><stop offset="0" stop-color="#000" stop-opacity="0.085"/><stop offset="0.5" stop-color="#000" stop-opacity="0.03"/><stop offset="1" stop-color="#000" stop-opacity="0"/></radialGradient></defs><rect x="780" y="650" width="185" height="176" fill="url(#sh)"/>
<!--/CHART-->
</svg>
</body>
</html>
